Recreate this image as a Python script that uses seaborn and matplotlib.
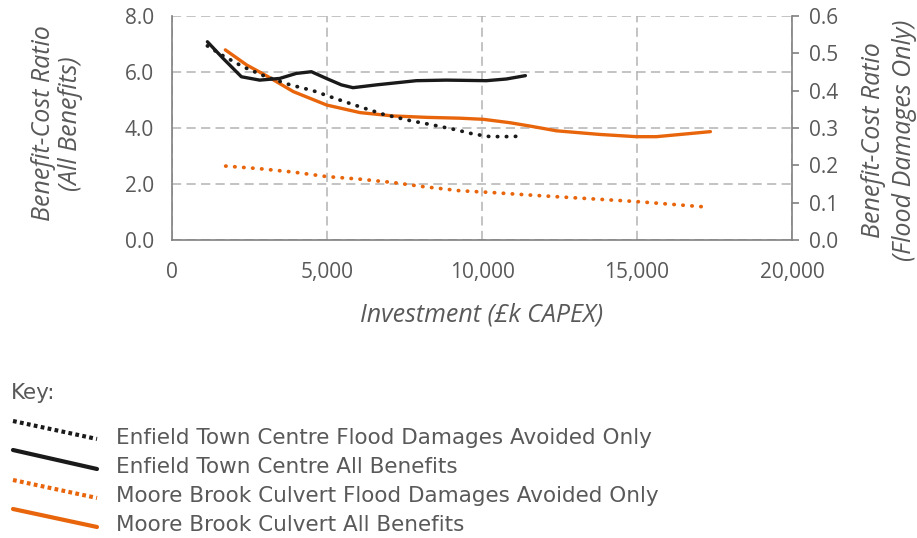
import matplotlib
matplotlib.use("Agg")
import matplotlib.pyplot as plt
import seaborn as sns
import pandas as pd
from matplotlib.lines import Line2D
from matplotlib.ticker import FuncFormatter

# ---------------- data ----------------
enfield_all_x = [1142, 1645, 2238, 2829, 3474, 4012, 4497, 4980, 5464, 5839, 6593, 7883, 8851, 10142, 10787, 11400]
enfield_all_y = [7.08, 6.49, 5.83, 5.71, 5.77, 5.95, 6.01, 5.77, 5.54, 5.44, 5.54, 5.69, 5.71, 5.69, 5.75, 5.87]

enfield_fd_x = [1142, 1594, 2290, 3045, 3797, 4548, 5303, 6055, 6806, 7668, 8420, 9174, 9710, 10248, 10787, 11345]
enfield_fd_y = [0.520, 0.496, 0.464, 0.437, 0.416, 0.400, 0.378, 0.357, 0.337, 0.320, 0.308, 0.295, 0.284, 0.277, 0.277, 0.278]

moore_all_x = [1720, 2410, 3055, 3913, 4990, 6065, 7139, 8216, 9290, 10043, 10894, 11542, 12400, 13797, 14980, 15625, 16593, 17368]
moore_all_y = [6.79, 6.25, 5.86, 5.30, 4.82, 4.55, 4.43, 4.38, 4.35, 4.31, 4.19, 4.07, 3.90, 3.77, 3.69, 3.69, 3.79, 3.87]

moore_fd_x = [1732, 2829, 3903, 4980, 6055, 7130, 8097, 9280, 10355, 11432, 12400, 14980, 17129]
moore_fd_y = [0.198, 0.191, 0.182, 0.170, 0.163, 0.154, 0.143, 0.132, 0.127, 0.121, 0.116, 0.103, 0.089]

series_names = [
    "Enfield Town Centre Flood Damages Avoided Only",
    "Enfield Town Centre All Benefits",
    "Moore Brook Culvert Flood Damages Avoided Only",
    "Moore Brook Culvert All Benefits",
]
x_ticks = [0, 5000, 10000, 15000, 20000]
left_ticks = [0.0, 2.0, 4.0, 6.0, 8.0]
right_ticks = [0.0, 0.1, 0.2, 0.3, 0.4, 0.5, 0.6]

# ---------------- styling ----------------
sns.set_style("white")
plt.rcParams["font.family"] = ["Open Sans", "DejaVu Sans"]
GREY = "#595959"
BLACK = "#1a1a1a"
ORANGE = "#E8650C"
SPINE = "#808080"
GRID = "#b3b3b3"

W, H = 917, 538
fig = plt.figure(figsize=(W / 100, H / 100), dpi=100)
ax = fig.add_axes([172 / W, 1 - 240 / H, 620 / W, 224 / H])
ax2 = ax.twinx()

dot = (0, (0.1, 2.3))
lw = 2.4

df_ea = pd.DataFrame({"x": enfield_all_x, "y": enfield_all_y})
df_ma = pd.DataFrame({"x": moore_all_x, "y": moore_all_y})
df_ef = pd.DataFrame({"x": enfield_fd_x, "y": enfield_fd_y})
df_mf = pd.DataFrame({"x": moore_fd_x, "y": moore_fd_y})

sns.lineplot(data=df_ma, x="x", y="y", ax=ax, color=ORANGE, lw=lw, sort=False)
sns.lineplot(data=df_ea, x="x", y="y", ax=ax, color=BLACK, lw=lw, sort=False)
sns.lineplot(data=df_ef, x="x", y="y", ax=ax2, color=BLACK, lw=2.7, sort=False,
             linestyle=dot, dash_capstyle="round")
sns.lineplot(data=df_mf, x="x", y="y", ax=ax2, color=ORANGE, lw=2.7, sort=False,
             linestyle=dot, dash_capstyle="round")

ax.set_xlim(0, 20000)
ax.set_ylim(0, 8)
ax2.set_ylim(0, 0.6)

ax.set_xticks(x_ticks)
ax.xaxis.set_major_formatter(FuncFormatter(lambda v, p: f"{v:,.0f}"))
ax.set_yticks(left_ticks)
ax.yaxis.set_major_formatter(FuncFormatter(lambda v, p: f"{v:.1f}"))
ax2.set_yticks(right_ticks)
ax2.yaxis.set_major_formatter(FuncFormatter(lambda v, p: f"{v:.1f}"))

ax.grid(True, color=GRID, lw=1.1, linestyle=(0, (6, 3.5)))
ax2.grid(False)
ax.set_axisbelow(True)

for a in (ax, ax2):
    for s in a.spines.values():
        s.set_visible(False)
ax.spines["left"].set_visible(True)
ax.spines["bottom"].set_visible(True)
ax2.spines["right"].set_visible(True)
for s in (ax.spines["left"], ax.spines["bottom"], ax2.spines["right"]):
    s.set_color(SPINE)
    s.set_linewidth(1.2)

fs = 15
ax.tick_params(axis="x", length=0, pad=16, labelsize=fs, labelcolor=GREY)
ax.tick_params(axis="y", length=0, pad=13, labelsize=fs, labelcolor=GREY)
ax2.tick_params(axis="y", length=5, width=1.2, color=SPINE, direction="out",
                pad=7, labelsize=fs, labelcolor=GREY)

lfs = 18
ax.set_xlabel("Investment (£k CAPEX)", fontsize=lfs, style="italic", color=GREY)
ax.xaxis.set_label_coords(0.5, -0.28)
ax.set_ylabel("Benefit-Cost Ratio\n(All Benefits)", fontsize=lfs, style="italic",
              color=GREY, linespacing=1.12)
ax.yaxis.set_label_coords(-0.143, 0.52)
ax2.set_ylabel("Benefit-Cost Ratio\n(Flood Damages Only)", fontsize=lfs, style="italic",
               color=GREY, linespacing=1.3)
ax2.yaxis.set_label_coords(1.111, 0.445)

# ---------------- key (legend) ----------------
def fx(px):
    return px / W

def fy(py):
    return 1 - py / H

kfam = ["DejaVu Sans"]
kfs = 15.5
fig.text(fx(11), fy(393), "Key:", fontsize=kfs, color=GREY, va="center", ha="left",
         family=kfam)
key_styles = [
    (BLACK, (0, (0.9, 0.8)), 421, 439),
    (BLACK, "-", 450, 469),
    (ORANGE, (0, (0.9, 0.8)), 480, 498),
    (ORANGE, "-", 509, 527),
]
text_y = [438, 467, 496, 525]
for (c, ls, y0, y1), name, ty in zip(key_styles, series_names, text_y):
    fig.add_artist(Line2D([fx(13), fx(97)], [fy(y0), fy(y1)], transform=fig.transFigure,
                          color=c, lw=3, linestyle=ls, dash_capstyle="butt"))
    fig.text(fx(116), fy(ty), name, fontsize=kfs, color=GREY, va="center", ha="left",
             family=kfam)

fig.savefig("out.png", dpi=100)
